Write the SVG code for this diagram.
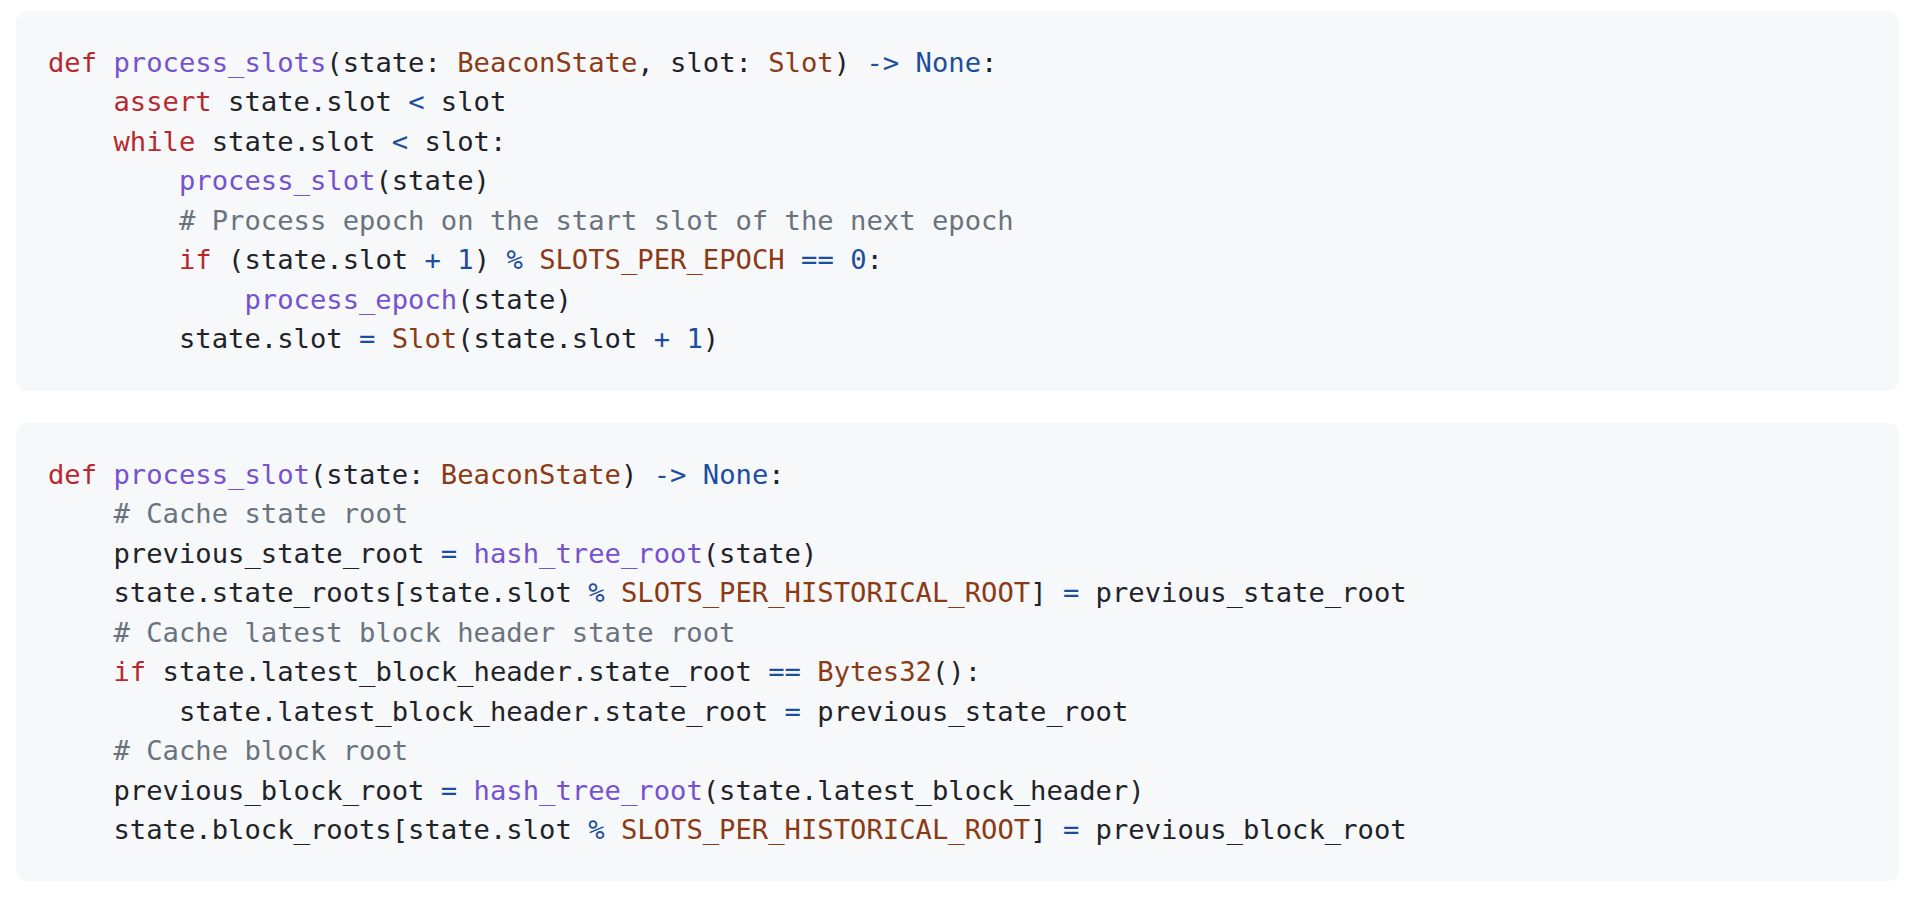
<svg xmlns="http://www.w3.org/2000/svg" width="1918" height="902" viewBox="0 0 1918 902">
<style>
.box{fill:#f6f8fa}
text{font-family:"DejaVu Sans Mono","Liberation Mono",monospace;font-size:27.2px;fill:#1f2328}
.k{fill:#b8292f}
.f{fill:#7552d0}
.t{fill:#8b3a14}
.o{fill:#1d4e9e}
.c{fill:#6a737d}
</style>
<rect width="1918" height="902" fill="#ffffff"/>
<g id="block-process-slots">
<rect class="box" x="16" y="11" width="1883" height="380" rx="12"/>
<text x="48" y="72" xml:space="preserve"><tspan class="k">def</tspan> <tspan class="f">process_slots</tspan>(state: <tspan class="t">BeaconState</tspan>, slot: <tspan class="t">Slot</tspan>) <tspan class="o">-&gt;</tspan> <tspan class="o">None</tspan>:</text>
<text x="48" y="111.4" xml:space="preserve">    <tspan class="k">assert</tspan> state.slot <tspan class="o">&lt;</tspan> slot</text>
<text x="48" y="150.9" xml:space="preserve">    <tspan class="k">while</tspan> state.slot <tspan class="o">&lt;</tspan> slot:</text>
<text x="48" y="190.3" xml:space="preserve">        <tspan class="f">process_slot</tspan>(state)</text>
<text x="48" y="229.8" xml:space="preserve">        <tspan class="c"># Process epoch on the start slot of the next epoch</tspan></text>
<text x="48" y="269.2" xml:space="preserve">        <tspan class="k">if</tspan> (state.slot <tspan class="o">+</tspan> <tspan class="o">1</tspan>) <tspan class="o">%</tspan> <tspan class="t">SLOTS_PER_EPOCH</tspan> <tspan class="o">==</tspan> <tspan class="o">0</tspan>:</text>
<text x="48" y="308.6" xml:space="preserve">            <tspan class="f">process_epoch</tspan>(state)</text>
<text x="48" y="348.1" xml:space="preserve">        state.slot <tspan class="o">=</tspan> <tspan class="t">Slot</tspan>(state.slot <tspan class="o">+</tspan> <tspan class="o">1</tspan>)</text>
</g>
<g id="block-process-slot">
<rect class="box" x="16" y="423" width="1883" height="458" rx="12"/>
<text x="48" y="484" xml:space="preserve"><tspan class="k">def</tspan> <tspan class="f">process_slot</tspan>(state: <tspan class="t">BeaconState</tspan>) <tspan class="o">-&gt;</tspan> <tspan class="o">None</tspan>:</text>
<text x="48" y="523.4" xml:space="preserve">    <tspan class="c"># Cache state root</tspan></text>
<text x="48" y="562.9" xml:space="preserve">    previous_state_root <tspan class="o">=</tspan> <tspan class="f">hash_tree_root</tspan>(state)</text>
<text x="48" y="602.3" xml:space="preserve">    state.state_roots[state.slot <tspan class="o">%</tspan> <tspan class="t">SLOTS_PER_HISTORICAL_ROOT</tspan>] <tspan class="o">=</tspan> previous_state_root</text>
<text x="48" y="641.8" xml:space="preserve">    <tspan class="c"># Cache latest block header state root</tspan></text>
<text x="48" y="681.2" xml:space="preserve">    <tspan class="k">if</tspan> state.latest_block_header.state_root <tspan class="o">==</tspan> <tspan class="t">Bytes32</tspan>():</text>
<text x="48" y="720.6" xml:space="preserve">        state.latest_block_header.state_root <tspan class="o">=</tspan> previous_state_root</text>
<text x="48" y="760.1" xml:space="preserve">    <tspan class="c"># Cache block root</tspan></text>
<text x="48" y="799.5" xml:space="preserve">    previous_block_root <tspan class="o">=</tspan> <tspan class="f">hash_tree_root</tspan>(state.latest_block_header)</text>
<text x="48" y="839" xml:space="preserve">    state.block_roots[state.slot <tspan class="o">%</tspan> <tspan class="t">SLOTS_PER_HISTORICAL_ROOT</tspan>] <tspan class="o">=</tspan> previous_block_root</text>
</g>
</svg>
